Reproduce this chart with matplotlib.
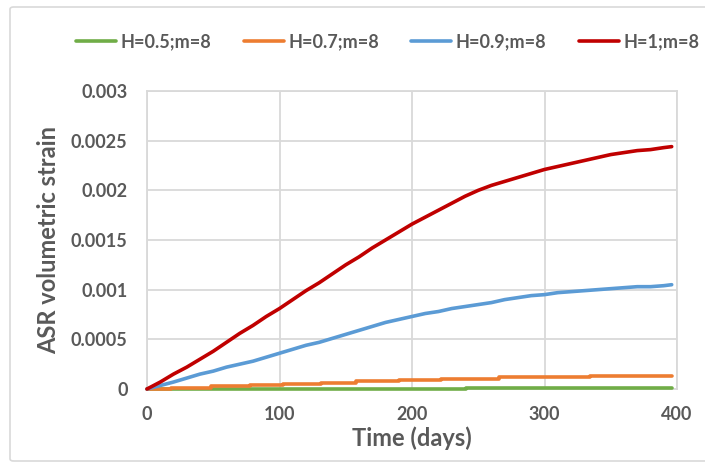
import matplotlib
matplotlib.use("Agg")
import matplotlib.pyplot as plt
from matplotlib.patches import FancyBboxPatch

# values
days = [0, 10, 20, 30, 40, 50, 60, 70, 80, 90, 100, 110, 120, 130, 140, 150, 160, 170, 180, 190,
        200, 210, 220, 230, 240, 250, 260, 270, 280, 290, 300, 310, 320, 330, 340, 350, 360, 370,
        380, 390, 396]

strain_h1 = [0, 0.00007, 0.00015, 0.00022, 0.0003, 0.00038, 0.00047, 0.00056, 0.00064, 0.00073,
             0.00081, 0.0009, 0.00099, 0.00107, 0.00116, 0.00125, 0.00133, 0.00142, 0.0015, 0.00158,
             0.00166, 0.00173, 0.0018, 0.00187, 0.00194, 0.002, 0.00205, 0.00209, 0.00213, 0.00217,
             0.00221, 0.00224, 0.00227, 0.0023, 0.00233, 0.00236, 0.00238, 0.0024, 0.00241, 0.00243,
             0.00244]

strain_h09 = [0, 0.000035, 0.00007, 0.00011, 0.00015, 0.00018, 0.00022, 0.00025, 0.00028, 0.00032,
              0.00036, 0.0004, 0.00044, 0.00047, 0.00051, 0.00055, 0.00059, 0.00063, 0.00067, 0.0007,
              0.00073, 0.00076, 0.00078, 0.00081, 0.00083, 0.00085, 0.00087, 0.0009, 0.00092, 0.00094,
              0.00095, 0.00097, 0.00098, 0.00099, 0.001, 0.00101, 0.00102, 0.00103, 0.00103, 0.00104,
              0.00105]

# stepwise series
days_h07 = [0, 18, 48, 78, 103, 131, 158, 190, 222, 266, 334, 396]
strain_h07 = [0, 0.000013, 0.000026, 0.000039, 0.000052, 0.000065, 0.000078, 0.000091,
              0.000104, 0.000117, 0.00013, 0.00013]

days_h05 = [0, 241, 396]
strain_h05 = [0, 0.000013, 0.000013]

labels = ["H=0.5;m=8", "H=0.7;m=8", "H=0.9;m=8", "H=1;m=8"]
colors = ["#70AD47", "#ED7D31", "#5B9BD5", "#C00000"]

x_ticks = [0, 100, 200, 300, 400]
y_ticks = [0, 0.0005, 0.001, 0.0015, 0.002, 0.0025, 0.003]
y_tick_labels = ["0", "0.0005", "0.001", "0.0015", "0.002", "0.0025", "0.003"]

plt.rcParams["font.family"] = ["Lato", "DejaVu Sans"]
plt.rcParams["font.weight"] = "bold"
text_color = "#595959"
grid_color = "#D9D9D9"

fig = plt.figure(figsize=(7.05, 4.63), dpi=100)
ax = fig.add_axes([147 / 705, 1 - 389 / 463, 530 / 705, 298 / 463])

lw = 2.6
series = [(days_h05, strain_h05, "steps-post"), (days_h07, strain_h07, "steps-post"),
          (days, strain_h09, "default"), (days, strain_h1, "default")]
for (xs, ys, ds), c, lab in zip(series, colors, labels):
    ax.plot(xs, ys, color=c, lw=lw, drawstyle=ds, label=lab, solid_capstyle="round",
            solid_joinstyle="round", clip_on=False, zorder=3)

ax.set_xlim(0, 400)
ax.set_ylim(0, 0.003)
ax.set_xticks(x_ticks)
ax.set_xticklabels([str(t) for t in x_ticks])
ax.set_yticks(y_ticks)
ax.set_yticklabels(y_tick_labels)
ax.tick_params(axis="both", length=0, labelsize=13, labelcolor=text_color)
ax.tick_params(axis="y", pad=14)
ax.tick_params(axis="x", pad=12)
ax.grid(True, color=grid_color, lw=1.3)
ax.set_axisbelow(True)
for s in ax.spines.values():
    s.set_color(grid_color)
    s.set_linewidth(1.3)
    s.set_zorder(1)

ax.set_xlabel("Time (days)", fontsize=17, fontweight="bold", color=text_color, labelpad=3)
ax.set_ylabel("ASR volumetric strain", fontsize=17, fontweight="bold", color=text_color,
              labelpad=8)

fig.legend(loc="center", bbox_to_anchor=(0.55, 1 - 42 / 463), ncol=4, frameon=False,
           fontsize=13, labelcolor=text_color, handlelength=2.2, handletextpad=0.25,
           columnspacing=1.8)

# outer chart border
border = FancyBboxPatch((10 / 705, 2 / 463), 1.2, 1 - 7 / 463 - 2 / 463,
                        boxstyle="round,pad=0,rounding_size=0.005", transform=fig.transFigure,
                        fill=False, edgecolor=grid_color, lw=1.2)
fig.patches.append(border)

fig.savefig("out.png", dpi=100)
